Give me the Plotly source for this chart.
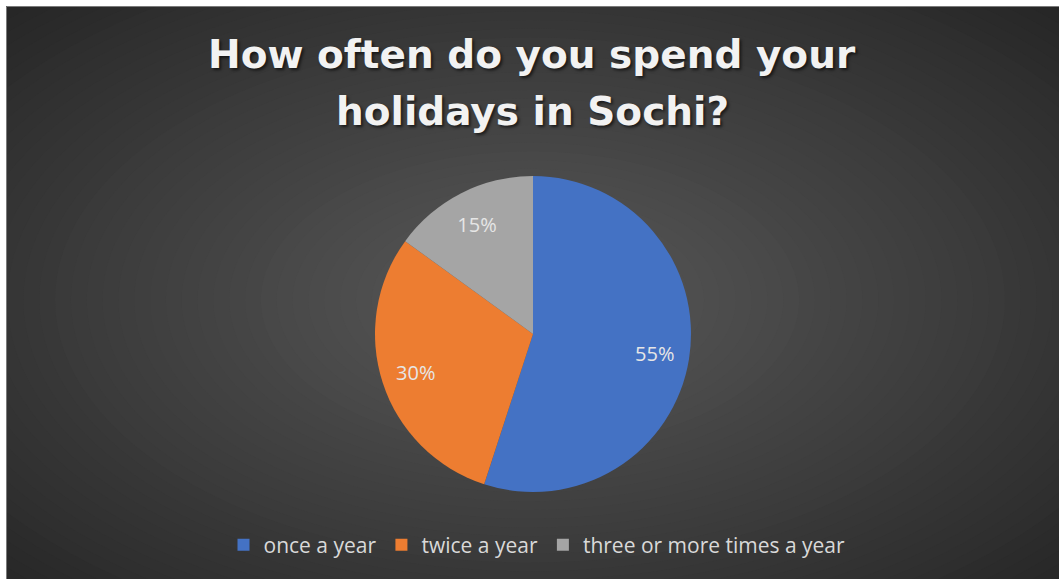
import plotly.graph_objects as go

categories = ["once a year", "twice a year", "three or more times a year"]
shares = [55, 30, 15]
slice_colors = ["#4472C4", "#ED7D31", "#A5A5A5"]
title_lines = ["How often do you spend your", "holidays in Sochi?"]

W, H = 1059, 579


def px(x):
    return x / W


def py(y):
    return 1 - y / H


def lerp_color(c1, c2, t):
    a = [int(c1[i:i + 2], 16) for i in (1, 3, 5)]
    b = [int(c2[i:i + 2], 16) for i in (1, 3, 5)]
    return "rgb(%d,%d,%d)" % tuple(round(a[k] + (b[k] - a[k]) * t) for k in range(3))


pie_domain = dict(x=[px(533 - 158), px(533 + 158)], y=[py(334 + 158), py(334 - 158)])

fig = go.Figure()
# coloured slices
fig.add_trace(go.Pie(
    labels=categories,
    values=shares,
    sort=False,
    direction="clockwise",
    rotation=0,
    marker=dict(colors=slice_colors, line=dict(width=0)),
    textinfo="none",
    hoverinfo="label+percent",
    domain=pie_domain,
))
# transparent ring that carries the data labels (places them at ~0.78 r)
fig.add_trace(go.Pie(
    labels=categories,
    values=shares,
    sort=False,
    direction="clockwise",
    rotation=0,
    hole=0.56,
    marker=dict(colors=["rgba(0,0,0,0)"] * len(categories), line=dict(width=0)),
    texttemplate="%{percent:.0%}",
    textposition="inside",
    insidetextorientation="horizontal",
    textfont=dict(family="Open Sans", size=20, color="#E6E6E6"),
    hoverinfo="skip",
    showlegend=False,
    domain=pie_domain,
))

shapes = []
dark_edge = "#262626"
light_center = "#5a5a5a"
shapes.append(dict(type="rect", xref="paper", yref="paper", x0=px(6), x1=1, y0=0, y1=py(6),
                   fillcolor=dark_edge, line=dict(width=0), layer="below"))
cx, cy = 530, 300
rx_max, ry_max = 760, 420
N = 48
for i in range(N):
    t = 1 - i / N
    rx, ry = rx_max * t, ry_max * t
    shapes.append(dict(type="circle", xref="paper", yref="paper",
                       x0=px(cx - rx), x1=px(cx + rx), y0=py(cy + ry), y1=py(cy - ry),
                       fillcolor=lerp_color(dark_edge, light_center, 1 - t),
                       line=dict(width=0), layer="below"))
shapes.append(dict(type="rect", xref="paper", yref="paper", x0=-0.1, x1=1.1, y0=py(6), y1=1.1,
                   fillcolor="white", line=dict(width=0), layer="below"))
shapes.append(dict(type="rect", xref="paper", yref="paper", x0=-0.1, x1=px(6), y0=-0.1, y1=1.1,
                   fillcolor="white", line=dict(width=0), layer="below"))
shapes.append(dict(type="rect", xref="paper", yref="paper", x0=px(6.5), x1=px(1062), y0=py(582), y1=py(6.5),
                   fillcolor="rgba(0,0,0,0)", line=dict(width=1, color="#7a7a7a"), layer="below"))

annotations = []
for line, yc in zip(title_lines, [55, 112]):
    annotations.append(dict(
        text="<b>%s</b>" % line, x=px(532), y=py(yc), xref="paper", yref="paper",
        xanchor="center", yanchor="middle", showarrow=False,
        font=dict(family="DejaVu Sans", size=39, color="#F2F2F2",
                  shadow="2px 2px 3px rgba(0,0,0,0.6)"),
    ))

fig.update_layout(
    width=W, height=H,
    margin=dict(l=0, r=0, t=0, b=0),
    paper_bgcolor="white",
    plot_bgcolor="rgba(0,0,0,0)",
    shapes=shapes,
    annotations=annotations,
    showlegend=True,
    legend=dict(orientation="h", x=px(537), xanchor="center", y=py(545), yanchor="middle",
                font=dict(family="Open Sans", size=21, color="#D9D9D9"),
                bgcolor="rgba(0,0,0,0)", itemwidth=30, traceorder="normal"),
)

fig.write_html("out.html", config={"displayModeBar": False},
               post_script="document.body.style.margin='0';document.body.style.overflow='hidden';")
